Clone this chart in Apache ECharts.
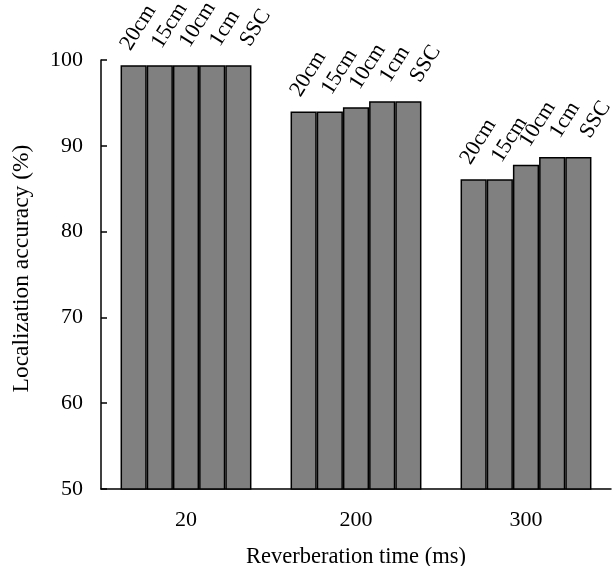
<!DOCTYPE html>
<html>
<head>
<meta charset="utf-8">
<script src="https://cdn.jsdelivr.net/npm/echarts@6/dist/echarts.min.js"></script>
<style>
  html, body { margin: 0; padding: 0; background: #fff; }
  #chart { width: 616px; height: 566px; }
</style>
</head>
<body>
<div id="chart"></div>
<script>
// reverberation times (x categories)
const categories = ['20', '200', '300']
// microphone spacing / method, one series each
const seriesNames = ['20cm', '15cm', '10cm', '1cm', 'SSC']
const acc20cm = [99.4, 94.0, 86.1]
const acc15cm = [99.4, 94.0, 86.1]
const acc10cm = [99.4, 94.5, 87.8]
const acc1cm = [99.4, 95.2, 88.7]
const accSSC = [99.4, 95.2, 88.7]
const values = [acc20cm, acc15cm, acc10cm, acc1cm, accSSC]
const yTicks = [50, 60, 70, 80, 90, 100]

const font = 'Liberation Serif'
const labelAngle = 58
// where each rotated name starts, in screen px from the bar's top centre
const labelDx = [1, 6, 8, 12, 16]
const labelDy = [-11, -13, -14, -15, -15]

// label offset is applied in the rotated frame, so turn the screen offset back
function toLocal(sx, sy) {
  const a = labelAngle * Math.PI / 180
  return [sx * Math.cos(a) - sy * Math.sin(a), sx * Math.sin(a) + sy * Math.cos(a)]
}

const myChart = echarts.init(document.getElementById('chart'))

const series = seriesNames.map((name, i) => ({
  name: name,
  type: 'bar',
  data: values[i],
  barGap: 0,
  barCategoryGap: '23%',
  itemStyle: {
    color: '#808080',
    borderColor: '#000',
    borderWidth: 1.5
  },
  label: {
    show: true,
    position: 'top',
    distance: 0,
    rotate: labelAngle,
    align: 'left',
    verticalAlign: 'bottom',
    offset: toLocal(labelDx[i], labelDy[i]),
    formatter: '{a}',
    color: '#000',
    fontFamily: font,
    fontSize: 22
  }
}))

const options = {
  backgroundColor: '#fff',
  animation: false,
  grid: {
    left: 101,
    right: 5,
    top: 60,
    bottom: 77,
    containLabel: false,
    outerBoundsMode: 'none'
  },
  xAxis: {
    type: 'category',
    data: categories,
    boundaryGap: true,
    name: 'Reverberation time (ms)',
    nameLocation: 'middle',
    nameGap: 57,
    nameTextStyle: { color: '#000', fontFamily: font, fontSize: 22.5 },
    axisLine: { lineStyle: { color: '#000', width: 1.5 } },
    axisTick: { inside: true, length: 6, lineStyle: { color: '#000', width: 1.5 } },
    axisLabel: { color: '#000', fontFamily: font, fontSize: 22, margin: 20 },
    splitLine: { show: false }
  },
  yAxis: {
    type: 'value',
    min: yTicks[0],
    max: yTicks[yTicks.length - 1],
    interval: 10,
    name: 'Localization accuracy (%)',
    nameLocation: 'middle',
    nameRotate: 90,
    nameGap: 67,
    nameTextStyle: { color: '#000', fontFamily: font, fontSize: 23.5, padding: [0, 0, 0, 12] },
    axisLine: { show: true, lineStyle: { color: '#000', width: 1.5 } },
    axisTick: { show: true, inside: true, length: 6, lineStyle: { color: '#000', width: 1.5 } },
    axisLabel: { color: '#000', fontFamily: font, fontSize: 22, margin: 18 },
    splitLine: { show: false }
  },
  series: series
}
myChart.setOption(options)
</script>
</body>
</html>
